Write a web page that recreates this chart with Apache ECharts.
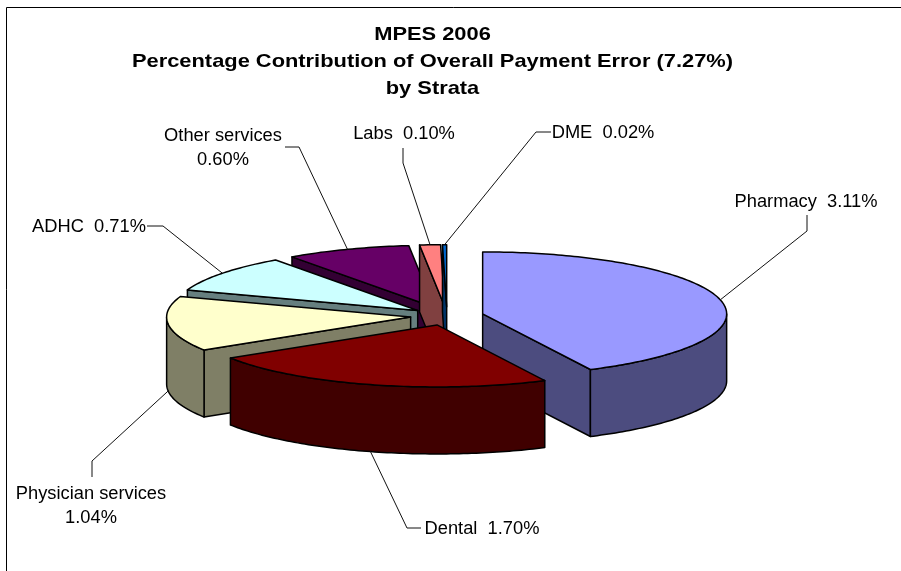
<!DOCTYPE html>
<html>
<head>
<meta charset="utf-8">
<style>html,body{margin:0;padding:0;background:#fff}#main{width:901px;height:571px}</style>
<script src="https://cdn.jsdelivr.net/npm/echarts@6/dist/echarts.min.js"></script>
</head>
<body>
<div id="main"></div>
<script>
var categories = ['Pharmacy', 'Dental', 'Physician services', 'ADHC', 'Other services', 'Labs', 'DME'];
var values = [3.11, 1.70, 1.04, 0.71, 0.60, 0.10, 0.02];
var titleLines = ['MPES 2006', 'Percentage Contribution of Overall Payment Error (7.27%)', 'by Strata'];

var topColors = ['#9999FF', '#800000', '#FFFFCC', '#CCFFFF', '#660066', '#FF8080', '#0066CC'];
var sideColors = ['#4C4C7F', '#400000', '#7F7F66', '#667F7F', '#330033', '#804040', '#003366'];
// back to front
var drawOrder = [4, 5, 6, 3, 2, 0, 1];

// pie geometry, the squashed circle
var cx = 447, cy = 316, rx = 244, ry = 62, depth = 67, explode = 0.15;

// label text, where it sits, and the elbow of its leader line
var labelLayout = [
  { lines: ['Pharmacy  3.11%'], x: 806, y: 202, leader: [[807, 215], [807, 231]] },
  { lines: ['Dental  1.70%'], x: 482, y: 529, leader: [[421, 528], [407, 528]] },
  { lines: ['Physician services', '1.04%'], x: 91, y: 494, leader: [[92, 477], [92, 461]] },
  { lines: ['ADHC  0.71%'], x: 89, y: 227, leader: [[147, 226], [163, 226]] },
  { lines: ['Other services', '0.60%'], x: 223, y: 136, leader: [[285, 147], [299, 147]] },
  { lines: ['Labs  0.10%'], x: 404, y: 134, leader: [[403, 148], [403, 163]] },
  { lines: ['DME  0.02%'], x: 603, y: 133, leader: [[551, 132], [536, 132]] }
];

var total = values.reduce(function (a, b) { return a + b; }, 0);
var slices = [];
var sum = 0;
values.forEach(function (v) {
  var start = sum / total * 360;
  sum += v;
  var end = sum / total * 360;
  var mid = (start + end) / 2 * Math.PI / 180;
  slices.push({
    start: start,
    end: end,
    mid: (start + end) / 2,
    ax: cx + explode * rx * Math.sin(mid),
    ay: cy - explode * ry * Math.cos(mid)
  });
});

function rim(s, deg, drop) {
  var a = deg * Math.PI / 180;
  return [s.ax + rx * Math.sin(a), s.ay - ry * Math.cos(a) + (drop || 0)];
}

function arc(s, from, to, drop) {
  var pts = [];
  for (var d = from; d < to; d += 1) pts.push(rim(s, d, drop));
  pts.push(rim(s, to, drop));
  return pts;
}

function poly(points, fill) {
  return {
    type: 'polygon',
    shape: { points: points },
    style: { fill: fill, stroke: '#000', lineWidth: 1.5, lineJoin: 'round' }
  };
}

function renderSlice(params, api) {
  var i = api.value(0);
  var s = slices[i];
  var side = sideColors[i];
  var apex = [s.ax, s.ay];
  var apexLow = [s.ax, s.ay + depth];
  var children = [];
  // radial walls only when they face the viewer
  if (Math.sin(s.start * Math.PI / 180) < -0.001) {
    children.push(poly([apex, rim(s, s.start), rim(s, s.start, depth), apexLow], side));
  }
  if (Math.sin(s.end * Math.PI / 180) > 0.001) {
    children.push(poly([apex, rim(s, s.end), rim(s, s.end, depth), apexLow], side));
  }
  // outer wall, front half of the ellipse
  var from = Math.max(s.start, 90), to = Math.min(s.end, 270);
  if (from < to) {
    children.push(poly(arc(s, from, to).concat(arc(s, from, to, depth).reverse()), side));
  }
  children.push(poly([apex].concat(arc(s, s.start, s.end)), topColors[i]));
  return { type: 'group', children: children };
}

function renderLabel(params, api) {
  var i = api.value(0);
  var s = slices[i];
  var l = labelLayout[i];
  var front = s.mid > 90 && s.mid < 270;
  // the physician and dental leaders leave from the bottom of the wall
  var from = rim(s, s.mid, front && i > 0 ? depth : 0);
  var children = [{
    type: 'polyline',
    shape: { points: l.leader.concat([from]) },
    style: { fill: null, stroke: '#111', lineWidth: 1 }
  }];
  l.lines.forEach(function (t, k) {
    children.push({
      type: 'text',
      x: l.x,
      y: l.y + k * 24,
      style: {
        text: t,
        fill: '#000',
        font: '18.3px "Liberation Sans", Arial, sans-serif',
        align: 'center',
        verticalAlign: 'middle'
      }
    });
  });
  return { type: 'group', children: children };
}

// title stretched sideways, the original is set wider than the font
var titleGraphics = titleLines.map(function (t, k) {
  return {
    type: 'text',
    silent: true,
    x: 432.5,
    y: 35 + k * 27,
    scaleX: 1.15,
    style: {
      text: t,
      fill: '#000',
      font: 'bold 19px "Liberation Sans", Arial, sans-serif',
      align: 'center',
      verticalAlign: 'middle'
    }
  };
});

var chart = echarts.init(document.getElementById('main'));
chart.setOption({
  animation: false,
  backgroundColor: '#fff',
  graphic: [{
    type: 'polyline',
    silent: true,
    shape: { points: [[6.5, 571], [6.5, 7.5], [901, 7.5]] },
    style: { fill: null, stroke: '#000', lineWidth: 1 }
  }].concat(titleGraphics),
  series: [
    {
      type: 'custom',
      coordinateSystem: 'none',
      silent: true,
      renderItem: renderSlice,
      data: drawOrder.map(function (i) { return [i]; })
    },
    {
      type: 'custom',
      coordinateSystem: 'none',
      silent: true,
      renderItem: renderLabel,
      data: categories.map(function (c, i) { return [i, c]; })
    }
  ]
});
</script>
</body>
</html>
